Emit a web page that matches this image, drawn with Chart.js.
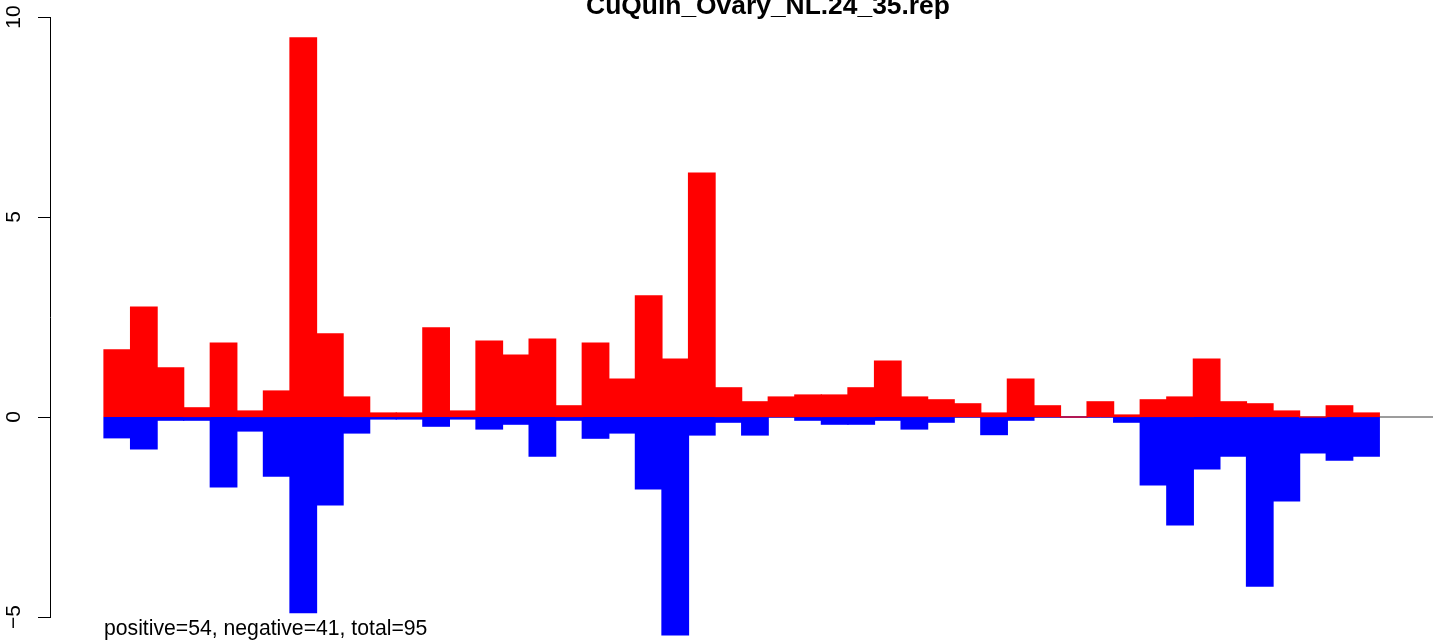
<!DOCTYPE html>
<html>
<head>
<meta charset="utf-8">
<script src="https://cdn.jsdelivr.net/npm/chart.js@4/dist/chart.umd.min.js"></script>
<style>
  html, body { margin: 0; padding: 0; background: #ffffff; }
  #wrap { width: 1433px; height: 641px; position: relative; }
</style>
</head>
<body>
<div id="wrap"><canvas id="c" width="1433" height="641"></canvas></div>
<script>
// ---- data ----
const chartTitle = 'CuQuin_Ovary_NL.24_35.rep';
const footerText = 'positive=54, negative=41, total=95';
const bins = [1,2,3,4,5,6,7,8,9,10,11,12,13,14,15,16,17,18,19,20,21,22,23,24,
              25,26,27,28,29,30,31,32,33,34,35,36,37,38,39,40,41,42,43,44,45,46,47,48];
const positives = [1.68, 2.75, 1.23, 0.23, 1.85, 0.15, 0.65, 9.48, 2.08, 0.5, 0.1, 0.1,
                   2.23, 0.15, 1.9, 1.55, 1.95, 0.28, 1.85, 0.95, 3.03, 1.45, 6.1, 0.73,
                   0.38, 0.5, 0.55, 0.55, 0.73, 1.4, 0.5, 0.43, 0.33, 0.1, 0.95, 0.28,
                   0, 0.38, 0.05, 0.43, 0.5, 1.45, 0.38, 0.33, 0.15, 0, 0.28, 0.1];
const negatives = [-0.52, -0.8, -0.08, -0.08, -1.75, -0.35, -1.48, -4.89, -2.2, -0.4, -0.05, -0.05,
                   -0.23, -0.05, -0.3, -0.18, -0.98, -0.08, -0.53, -0.4, -1.8, -5.45, -0.45, -0.13,
                   -0.45, 0, -0.08, -0.18, -0.18, -0.08, -0.3, -0.13, 0, -0.44, -0.08, 0,
                   0, 0, -0.13, -1.7, -2.7, -1.3, -0.98, -4.23, -2.1, -0.9, -1.08, -0.98];
const yTickValues = [-5, 0, 5, 10];
const yTickLabels = ['\u22125', '0', '5', '10'];

// ---- layout (not data) ----
const X_MIN = -2.032, X_MAX = 50.02;
const FONT = '"Liberation Sans", Arial, Helvetica, sans-serif';

const toPoints = (arr) => arr.map((v, i) => ({ x: bins[i] - 0.5, y: v }));

const textPlugin = {
  id: 'rtext',
  afterDraw(chart) {
    const ctx = chart.ctx;
    const ys = chart.scales.y;
    ctx.save();
    ctx.fillStyle = '#000';
    ctx.font = '21px ' + FONT;
    ctx.textAlign = 'center';
    ctx.textBaseline = 'middle';
    ys.ticks.forEach((t) => {
      const idx = yTickValues.indexOf(t.value);
      const lab = idx >= 0 ? yTickLabels[idx] : String(t.value);
      const py = ys.getPixelForValue(t.value);
      ctx.save();
      ctx.translate(14, py);
      ctx.rotate(-Math.PI / 2);
      ctx.fillText(lab, 0, 0);
      ctx.restore();
    });
    ctx.font = 'bold 26.4px ' + FONT;
    ctx.textAlign = 'center';
    ctx.textBaseline = 'alphabetic';
    ctx.fillText(chartTitle, 768, 13.5);
    ctx.font = '21.2px ' + FONT;
    ctx.textAlign = 'left';
    ctx.fillText(footerText, 104, 635);
    ctx.restore();
  }
};

new Chart(document.getElementById('c'), {
  data: {
    datasets: [
      {
        type: 'line',
        data: [{ x: 0, y: 0 }, { x: X_MAX, y: 0 }],
        borderColor: '#3a3a3a',
        borderWidth: 1,
        pointRadius: 0,
        order: 3
      },
      {
        type: 'bar',
        data: toPoints(negatives),
        backgroundColor: '#0000ff',
        borderWidth: 0,
        inflateAmount: 0.6,
        grouped: false,
        barPercentage: 1,
        categoryPercentage: 1,
        clip: false,
        order: 2
      },
      {
        type: 'bar',
        data: toPoints(positives),
        backgroundColor: '#ff0000',
        borderWidth: 0,
        inflateAmount: 0.6,
        grouped: false,
        barPercentage: 1,
        categoryPercentage: 1,
        clip: false,
        order: 1
      }
    ]
  },
  options: {
    responsive: false,
    animation: false,
    events: [],
    layout: { padding: { top: 17, bottom: 24, left: 0, right: 0 } },
    plugins: { legend: { display: false }, tooltip: { enabled: false }, title: { display: false } },
    scales: {
      x: {
        type: 'linear',
        min: X_MIN,
        max: X_MAX,
        offset: false,
        display: false
      },
      y: {
        type: 'linear',
        min: -5,
        max: 10,
        afterBuildTicks(scale) { scale.ticks = yTickValues.map(v => ({ value: v })); },
        afterFit(scale) { scale.width = 50; },
        ticks: { display: false },
        grid: { drawOnChartArea: false, drawTicks: true, tickLength: 12, color: '#000', lineWidth: 1 },
        border: { display: true, color: '#000', width: 1 }
      }
    }
  },
  plugins: [textPlugin]
});
</script>
</body>
</html>
